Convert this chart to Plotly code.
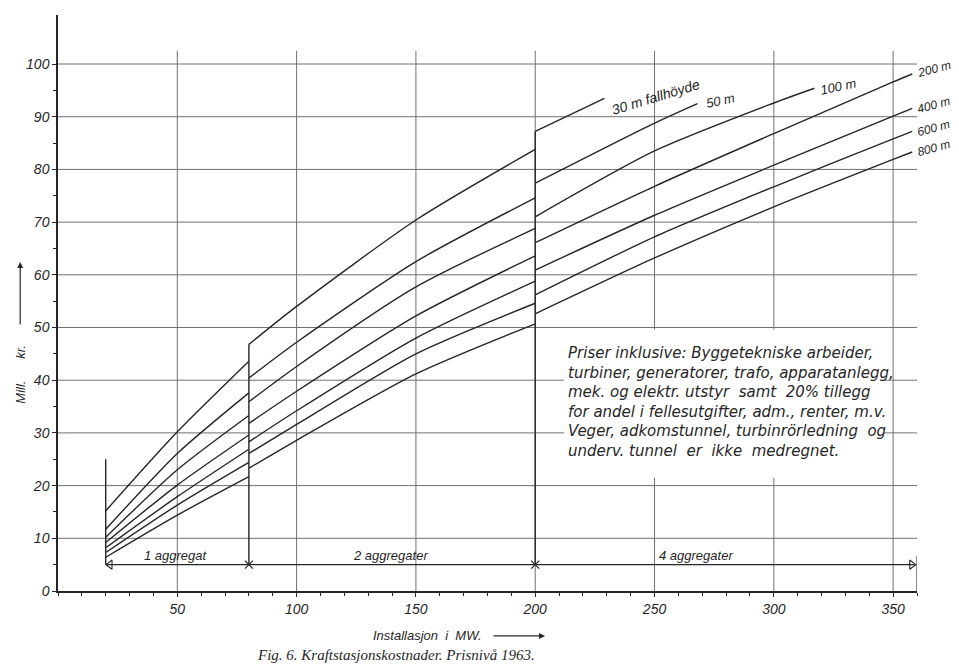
import plotly.graph_objects as go

# ---------------- data ----------------
heads = ["30 m", "50 m", "100 m", "200 m", "400 m", "600 m", "800 m"]

# segment 1: 1 aggregat (20-80 MW)
x_seg1 = [20, 50, 80]
y_seg1 = {
    "30 m": [15.2, 30.2, 43.6],
    "50 m": [11.7, 26.1, 37.6],
    "100 m": [10.2, 23.0, 33.3],
    "200 m": [9.2, 20.1, 29.6],
    "400 m": [8.2, 17.9, 26.9],
    "600 m": [7.3, 16.3, 24.4],
    "800 m": [6.4, 14.4, 21.7],
}
# segment 2: 2 aggregater (80-200 MW)
x_seg2 = [80, 100, 150, 200]
y_seg2 = {
    "30 m": [46.8, 54.0, 70.4, 83.8],
    "50 m": [40.4, 47.2, 62.5, 74.6],
    "100 m": [35.9, 42.6, 57.7, 68.8],
    "200 m": [31.8, 37.9, 52.2, 63.6],
    "400 m": [28.3, 34.2, 48.0, 58.8],
    "600 m": [26.1, 31.6, 45.0, 54.6],
    "800 m": [23.3, 28.6, 41.2, 50.7],
}
# segment 3: 4 aggregater (200 MW ->), curves end at different x
x_seg3 = {
    "30 m": [200, 229],
    "50 m": [200, 250, 268],
    "100 m": [200, 250, 300, 317],
    "200 m": [200, 250, 300, 350, 358],
    "400 m": [200, 250, 300, 350, 358],
    "600 m": [200, 250, 300, 350, 358],
    "800 m": [200, 250, 300, 350, 358],
}
y_seg3 = {
    "30 m": [87.2, 93.5],
    "50 m": [77.4, 88.8, 92.5],
    "100 m": [71.0, 83.5, 92.6, 95.4],
    "200 m": [66.1, 76.8, 86.8, 96.6, 98.1],
    "400 m": [60.9, 71.3, 80.8, 90.1, 91.6],
    "600 m": [56.2, 67.2, 76.7, 85.8, 87.2],
    "800 m": [52.6, 63.2, 72.9, 81.9, 83.3],
}
curve_labels = {
    "30 m": "30 m fallhöyde", "50 m": "50 m", "100 m": "100 m",
    "200 m": "200 m", "400 m": "400 m", "600 m": "600 m", "800 m": "800 m",
}

x_ticks = [50, 100, 150, 200, 250, 300, 350]
y_ticks = [0, 10, 20, 30, 40, 50, 60, 70, 80, 90, 100]
x_max = 360
y_max = 109.3
grid_top = 102.5

aggr_level = 5
aggr_bounds = [20, 80, 200, 360]
aggr_names = ["1 aggregat", "2 aggregater", "4 aggregater"]
start_marker_top = 25

note_lines = [
    "Priser inklusive: Byggetekniske arbeider,",
    "turbiner, generatorer, trafo, apparatanlegg,",
    "mek. og elektr. utstyr  samt  20% tillegg",
    "for andel i fellesutgifter, adm., renter, m.v.",
    "Veger, adkomstunnel, turbinrörledning  og",
    "underv. tunnel  er  ikke  medregnet.",
]

INK = "#262626"
GRID = "#707070"
FONT = "Liberation Sans"

fig = go.Figure()

# ---------------- curves ----------------
for h in heads:
    xs = x_seg1 + [None] + x_seg2 + [None] + x_seg3[h]
    ys = y_seg1[h] + [None] + y_seg2[h] + [None] + y_seg3[h]
    fig.add_trace(go.Scatter(
        x=xs, y=ys, mode="lines", connectgaps=False,
        line=dict(color=INK, width=1.4, shape="spline", smoothing=0.7),
        showlegend=False, hoverinfo="skip"))

# vertical jump / boundary lines
top80 = max(y_seg2[h][0] for h in heads)
top200 = max(y_seg3[h][0] for h in heads)
fig.add_trace(go.Scatter(
    x=[aggr_bounds[0], aggr_bounds[0], None, aggr_bounds[1], aggr_bounds[1], None,
       aggr_bounds[2], aggr_bounds[2]],
    y=[aggr_level, start_marker_top, None, aggr_level, top80, None, aggr_level, top200],
    mode="lines", line=dict(color=INK, width=1.4), showlegend=False, hoverinfo="skip"))

# aggregat dimension line
fig.add_trace(go.Scatter(
    x=[aggr_bounds[0], aggr_bounds[-1] - 1], y=[aggr_level, aggr_level], mode="lines",
    line=dict(color=INK, width=1.1), showlegend=False, hoverinfo="skip"))
fig.add_trace(go.Scatter(
    x=[aggr_bounds[1], aggr_bounds[2]], y=[aggr_level, aggr_level], mode="markers",
    marker=dict(symbol="x-thin-open", size=8, color=INK, line=dict(color=INK, width=1.2)),
    showlegend=False, hoverinfo="skip"))
fig.add_trace(go.Scatter(
    x=[aggr_bounds[0] + 1.8], y=[aggr_level], mode="markers",
    marker=dict(symbol="triangle-left-open", size=8, color=INK, line=dict(color=INK, width=1.1)),
    showlegend=False, hoverinfo="skip"))
fig.add_trace(go.Scatter(
    x=[aggr_bounds[-1] - 2.2], y=[aggr_level], mode="markers",
    marker=dict(symbol="triangle-right-open", size=8, color=INK, line=dict(color=INK, width=1.1)),
    showlegend=False, hoverinfo="skip"))
# end mark at right of x axis
fig.add_trace(go.Scatter(
    x=[x_max, x_max], y=[-0.5, 6.6], mode="lines",
    line=dict(color=INK, width=1.1), showlegend=False, hoverinfo="skip"))

aggr_label_x = [35, 123, 251]
for nm, xl in zip(aggr_names, aggr_label_x):
    fig.add_annotation(x=xl, y=aggr_level, text=nm, showarrow=False,
                       xanchor="left", yanchor="bottom", yshift=0,
                       font=dict(family=FONT, size=13, color=INK, style="italic"))

# ---------------- grid as shapes ----------------
shapes = []
for xv in x_ticks:
    shapes.append(dict(type="line", xref="x", yref="y", x0=xv, x1=xv, y0=0, y1=grid_top,
                       line=dict(color=GRID, width=1), layer="below"))
for yv in y_ticks[1:]:
    shapes.append(dict(type="line", xref="x", yref="y", x0=0, x1=x_max, y0=yv, y1=yv,
                       line=dict(color=GRID, width=1), layer="below"))
# blank area behind the note
shapes.append(dict(type="rect", xref="x", yref="y", x0=212, x1=346, y0=21.5, y1=49.6,
                   fillcolor="white", line=dict(width=0), layer="below"))
fig.update_layout(shapes=shapes)

# ---------------- curve labels ----------------
label_pos = {
    "30 m": (230, 93.8, -17, 14),
    "50 m": (270, 93.0, -12, 13),
    "100 m": (318, 95.8, -12, 13),
    "200 m": (358.5, 99.0, -15, 12),
    "400 m": (358.5, 92.2, -15, 12),
    "600 m": (358.5, 87.8, -15, 12),
    "800 m": (358.5, 84.1, -15, 12),
}
for h in heads:
    xl, yl, ang, fs = label_pos[h]
    fig.add_annotation(x=xl, y=yl, text=curve_labels[h], showarrow=False,
                       xanchor="left", yanchor="middle", textangle=ang, xshift=0,
                       font=dict(family=FONT, size=fs, color=INK, style="italic"))

# ---------------- note ----------------
fig.add_annotation(x=213, y=47.3, text="<br>".join(note_lines), showarrow=False,
                   xanchor="left", yanchor="top", align="left",
                   font=dict(family="DejaVu Sans", size=15, color=INK, style="italic"))

# ---------------- axis titles ----------------
fig.add_annotation(xref="paper", yref="paper", x=-0.044, y=0.376, text="Mill.      kr.",
                   showarrow=False, textangle=-90, xanchor="center", yanchor="middle",
                   font=dict(family=FONT, size=13, color=INK, style="italic"))
fig.add_annotation(xref="paper", yref="paper", x=-0.044, y=0.571, ax=0, ay=64,
                   text="", showarrow=True,
                   arrowhead=2, arrowsize=1, arrowwidth=1.2, arrowcolor=INK)
fig.add_annotation(xref="paper", yref="paper", x=0.43, y=-0.078, text="Installasjon  i  MW.",
                   showarrow=False, xanchor="center", yanchor="middle",
                   font=dict(family=FONT, size=13, color=INK, style="italic"))
fig.add_annotation(xref="paper", yref="paper", x=0.567, y=-0.078, ax=-53, ay=0,
                   text="", showarrow=True,
                   arrowhead=2, arrowsize=1, arrowwidth=1.2, arrowcolor=INK)
fig.add_annotation(xref="paper", yref="paper", x=0.393, y=-0.111,
                   text="Fig. 6. Kraftstasjonskostnader. Prisnivå 1963.",
                   showarrow=False, xanchor="center", yanchor="middle",
                   font=dict(family="Liberation Serif", size=15, color=INK, style="italic"))

fig.update_xaxes(range=[0, x_max], tickvals=x_ticks, showgrid=False, zeroline=False,
                 showline=True, linecolor=INK, linewidth=1.5,
                 ticks="outside", ticklen=4, tickcolor=INK,
                 minor=dict(dtick=10, ticks="outside", ticklen=3, tickcolor=INK),
                 tickfont=dict(family=FONT, size=14, color=INK, style="italic"))
fig.update_yaxes(range=[0, y_max], tickvals=y_ticks, showgrid=False, zeroline=False,
                 showline=True, linecolor=INK, linewidth=1.5,
                 ticks="outside", ticklen=4, tickcolor=INK,
                 minor=dict(tickvals=[5, 15, 25, 35, 45, 55, 65, 75, 85, 95], ticks="outside",
                            ticklen=3, tickcolor=INK),
                 tickfont=dict(family=FONT, size=14, color=INK, style="italic"))

# page body adds ~8px offset; margins compensate so the plot lands where the reference has it
fig.update_layout(width=959, height=664, plot_bgcolor="white", paper_bgcolor="white",
                  margin=dict(l=50, r=50, t=7, b=81), showlegend=False)

fig.write_html("out.html")
